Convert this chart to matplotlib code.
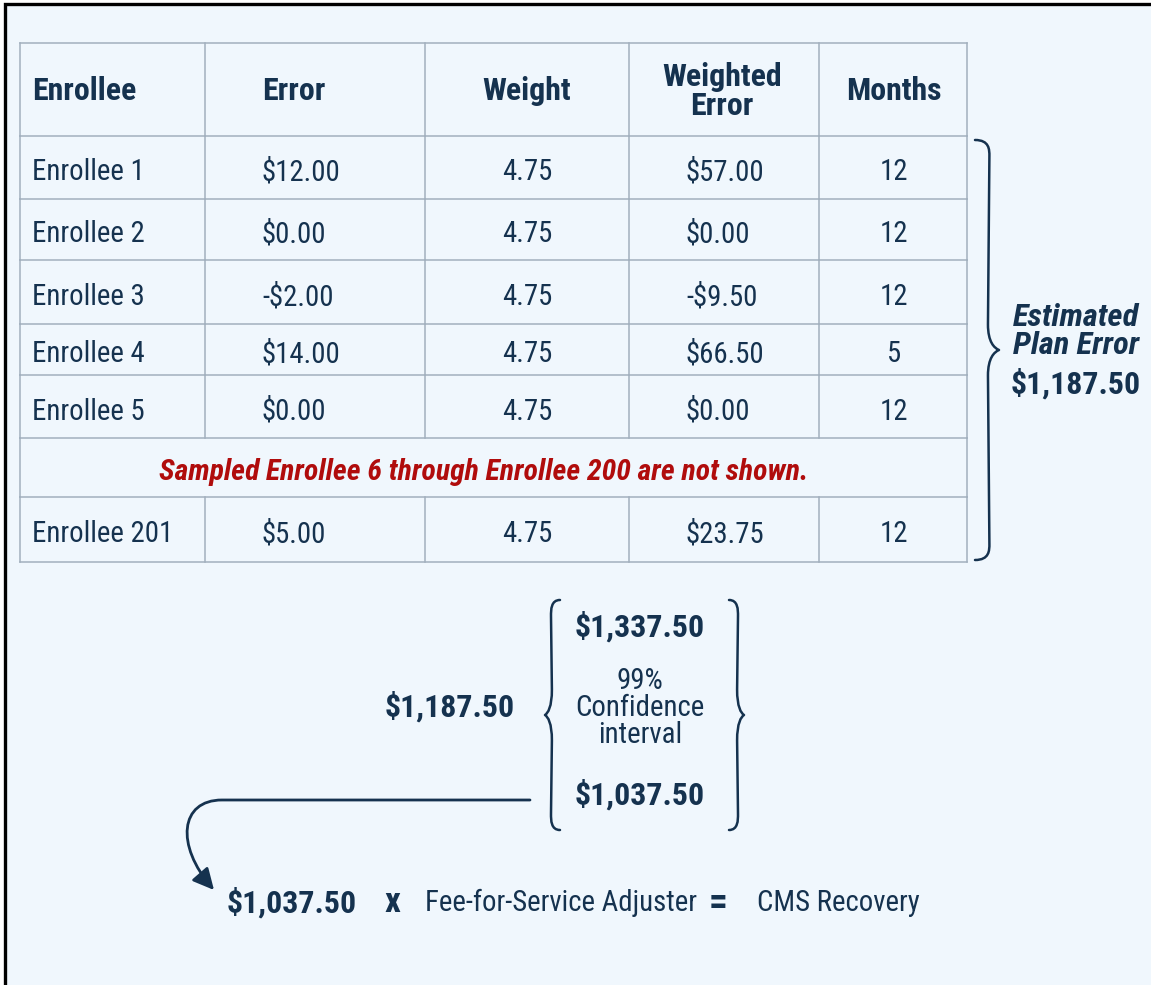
import matplotlib
matplotlib.use("Agg")
import matplotlib.pyplot as plt
from matplotlib import font_manager as fm
from matplotlib.path import Path
from matplotlib.patches import PathPatch, FancyArrowPatch, Rectangle

# ---- data ----
headers = ["Enrollee", "Error", "Weight", "Weighted\nError", "Months"]
enrollees = ["Enrollee 1", "Enrollee 2", "Enrollee 3", "Enrollee 4", "Enrollee 5", "Enrollee 201"]
errors = [12.00, 0.00, -2.00, 14.00, 0.00, 5.00]
weights = [4.75, 4.75, 4.75, 4.75, 4.75, 4.75]
weighted_errors = [57.00, 0.00, -9.50, 66.50, 0.00, 23.75]
months = [12, 12, 12, 5, 12, 12]
gap_note = "Sampled Enrollee 6 through Enrollee 200 are not shown."
plan_error = 1187.50
ci_upper = 1337.50
ci_lower = 1037.50
ci_label = "99%\nConfidence\ninterval"

# ---- style ----
NAVY = "#15324f"
RED = "#b00c0c"
GRID = "#a2b0be"
BG = "#f0f7fd"

names = {f.name for f in fm.fontManager.ttflist}
stretches = {(f.name, f.stretch) for f in fm.fontManager.ttflist}
FONT = dict(family="DejaVu Sans")
scale = 0.72
for cand in ["Roboto Condensed", "Liberation Sans Narrow", "Open Sans Condensed"]:
    if cand in names:
        FONT = dict(family=cand)
        scale = 0.9
        break
else:
    if ("DejaVu Sans", "condensed") in stretches:
        FONT = dict(family="DejaVu Sans", fontstretch="condensed")
        scale = 0.8


def money(v):
    s = "${:,.2f}".format(abs(v))
    return "-" + s if v < 0 else s


def txt(x, y, s, size=22, weight="normal", style="normal", ha="left", color=NAVY, **kw):
    ax.text(x, y, s, fontsize=size * scale, fontweight=weight, fontstyle=style,
            ha=ha, va="center", color=color, **FONT, **kw)


def brace(x, y0, y1, w, lw=1.8):
    # curly brace along x, bulging by w (negative w points left)
    ym = (y0 + y1) / 2
    h = w * 0.6
    r = 16
    verts = [(x, y0),
             (x + h, y0), (x + h, y0 + r * 0.6), (x + h, y0 + r),
             (x + h * 0.9, ym - r * 1.6),
             (x + h * 0.9, ym - r * 0.5), (x + w * 0.8, ym - 2), (x + w, ym),
             (x + w * 0.8, ym + 2), (x + h * 0.9, ym + r * 0.5), (x + h * 0.9, ym + r * 1.6),
             (x + h, y1 - r),
             (x + h, y1 - r * 0.6), (x + h, y1), (x, y1)]
    codes = [Path.MOVETO,
             Path.CURVE4, Path.CURVE4, Path.CURVE4,
             Path.LINETO,
             Path.CURVE4, Path.CURVE4, Path.CURVE4,
             Path.CURVE4, Path.CURVE4, Path.CURVE4,
             Path.LINETO,
             Path.CURVE4, Path.CURVE4, Path.CURVE4]
    ax.add_patch(PathPatch(Path(verts, codes), fill=False, ec=NAVY, lw=lw,
                           capstyle="round", joinstyle="round"))


W, H = 1151, 985
fig = plt.figure(figsize=(W / 100, H / 100), dpi=100)
fig.patch.set_facecolor("white")
ax = fig.add_axes([0, 0, 1, 1])
ax.set_xlim(0, W)
ax.set_ylim(H, 0)
ax.axis("off")

# panel: only its top and left edges fall inside the picture
ax.add_patch(Rectangle((5.5, 3.5), W + 200, H + 200, fc=BG, ec="black", lw=2.4))

# ---- table ----
col_edges = [20, 205, 425, 629, 819, 967]
row_edges = [43, 136, 199, 260, 324, 375, 438, 497, 562]
note_row = 6

for y in row_edges:
    ax.plot([col_edges[0], col_edges[-1]], [y, y], color=GRID, lw=1.1)
for i, x in enumerate(col_edges):
    for r in range(len(row_edges) - 1):
        if r == note_row and 0 < i < len(col_edges) - 1:
            continue
        ax.plot([x, x], [row_edges[r], row_edges[r + 1]], color=GRID, lw=1.1)

col_x = [32, 262, 527, 686, 894]
col_ha = ["left", "left", "center", "left", "center"]
head_x = [32, 262, 527, 722, 894]
head_ha = ["left", "left", "center", "center", "center"]
hy = (row_edges[0] + row_edges[1]) / 2 + 2
for s, x, ha in zip(headers, head_x, head_ha):
    txt(x, hy, s, size=25.5, weight="bold", ha=ha, linespacing=0.95)

data_rows = [r for r in range(1, len(row_edges) - 1) if r != note_row]
for k, r in enumerate(data_rows):
    y = (row_edges[r] + row_edges[r + 1]) / 2 + 5
    vals = [enrollees[k], money(errors[k]), "{:.2f}".format(weights[k]),
            money(weighted_errors[k]), str(months[k])]
    for s, x, ha in zip(vals, col_x, col_ha):
        txt(x, y, s, size=23, ha=ha)

ny = (row_edges[note_row] + row_edges[note_row + 1]) / 2 + 4
txt((col_edges[0] + col_edges[-1]) / 2 - 10, ny, gap_note, size=23.8, weight="bold",
    style="italic", ha="center", color=RED)

# brace + estimated plan error
brace(975, 140, 560, 24)
txt(1076, 317, "Estimated", size=26, weight="bold", style="italic", ha="center")
txt(1076, 346, "Plan Error", size=26, weight="bold", style="italic", ha="center")
txt(1076, 384, money(plan_error), size=25.5, weight="bold", ha="center")

# ---- confidence interval ----
txt(515, 707, money(plan_error), size=25.5, weight="bold", ha="right")
brace(560, 600, 830, -15)
brace(729, 600, 830, 15)
txt(640, 627, money(ci_upper), size=25.5, weight="bold", ha="center")
txt(640, 708, ci_label, size=23, ha="center", linespacing=0.95)
txt(640, 795, money(ci_lower), size=25.5, weight="bold", ha="center")

# arrow from lower bound to the recovery equation
arrow_path = Path([(530, 800), (222, 800), (180, 800), (175, 845), (214, 890)],
                  [Path.MOVETO, Path.LINETO, Path.CURVE4, Path.CURVE4, Path.CURVE4])
ax.add_patch(FancyArrowPatch(path=arrow_path, arrowstyle="-|>", mutation_scale=32,
                             color=NAVY, lw=2))

# ---- recovery equation ----
ey = 903
txt(227, ey, money(ci_lower), size=25.5, weight="bold")
txt(392, ey, "x", size=28, weight="bold", ha="center")
txt(425, ey, "Fee-for-Service Adjuster", size=23)
txt(718, ey, "=", size=30, weight="bold", ha="center")
txt(757, ey, "CMS Recovery", size=23)

fig.savefig("out.png", dpi=100, facecolor=fig.get_facecolor())
